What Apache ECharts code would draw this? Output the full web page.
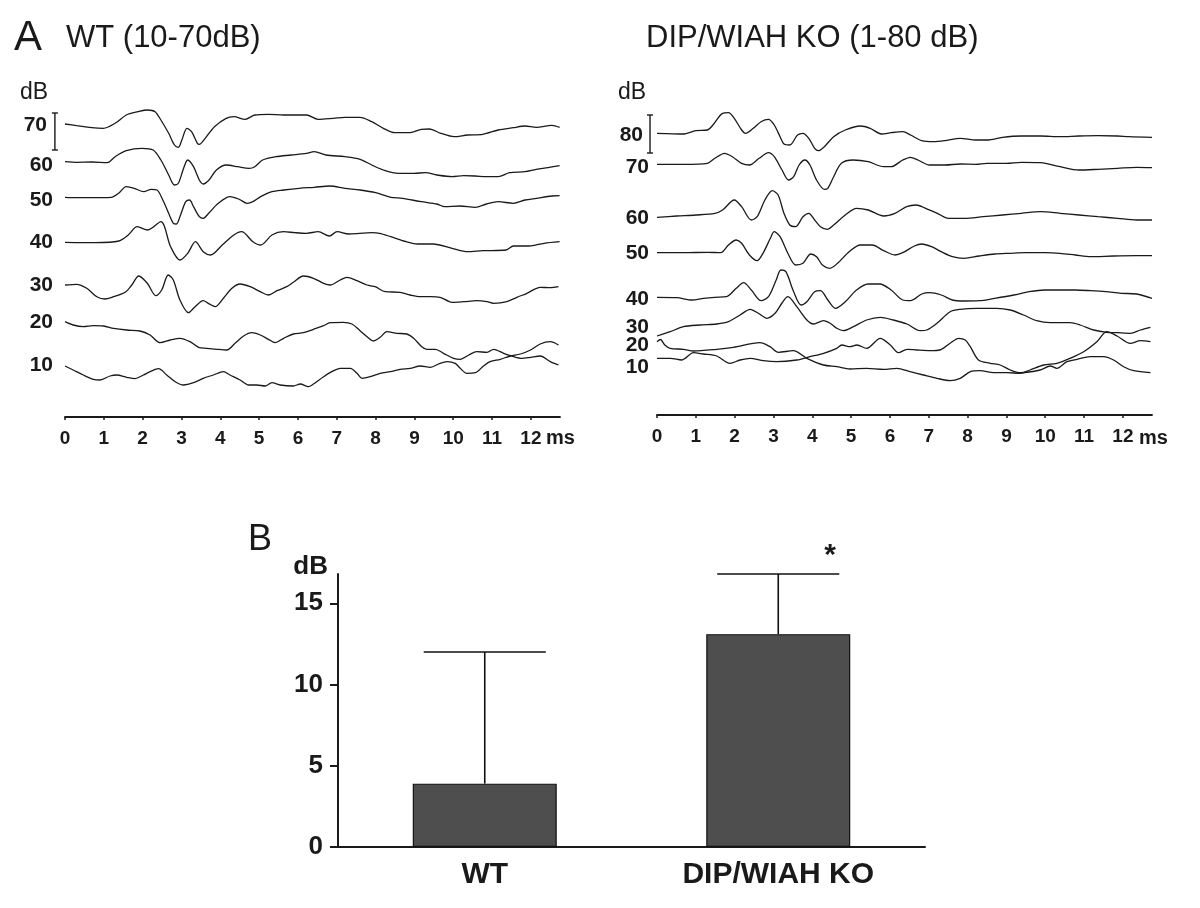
<!DOCTYPE html>
<html>
<head>
<meta charset="utf-8">
<script src="https://cdn.jsdelivr.net/npm/echarts@6/dist/echarts.min.js"></script>
<style>html,body{margin:0;padding:0;background:#fff}#c{width:1200px;height:908px}</style>
</head>
<body>
<div id="c"></div>
<script>
// ---------- DATA ----------
// Panel A: ABR waveforms, [time in ms, vertical position in display units]
const msTicks = [0,1,2,3,4,5,6,7,8,9,10,11,12];

const wtLevels = ['70','60','50','40','30','20','10'];
const wtLevelPos = [292,252,217,175,132,95,52];
const koLevels = ['80','70','60','50','40','30','20','10'];
const koLevelPos = [280,248,197,162,116,88,70,48];

const wt70 = [[0,293],[0.3,291.3],[0.69,289.3],[0.99,288.7],[1.29,293.7],[1.58,302],[1.88,305.3],[2.13,307],[2.32,305.3],[2.47,297],[2.67,283.7],[2.82,272],[2.92,269.7],[3.01,277],[3.14,288.7],[3.26,285.3],[3.41,273.7],[3.46,272.7],[3.61,278.7],[3.85,290.3],[4.15,298.7],[4.35,300.3],[4.64,297.7],[4.89,302],[5.24,302.7],[5.63,302],[5.98,302],[6.22,302],[6.52,297.7],[6.91,298.7],[7.21,299.7],[7.6,299.7],[7.9,295.3],[8.2,288.7],[8.49,284.3],[8.89,284.3],[9.18,287.7],[9.38,288],[9.68,283.7],[10.02,280.3],[10.37,282],[10.76,282.7],[11.16,287],[11.55,289.3],[11.85,291],[12.14,289.7],[12.54,291.7],[12.74,289.7]];
const wt60 = [[0,255.3],[0.3,254.7],[0.69,255],[1.09,254.3],[1.29,260.3],[1.58,266.3],[1.98,268.7],[2.27,267],[2.47,257],[2.67,242],[2.82,232],[2.92,233.7],[3.04,247],[3.16,257],[3.31,250.3],[3.46,237],[3.56,233],[3.71,237],[3.9,247],[4.15,252],[4.45,250.3],[4.74,248.7],[4.89,250.3],[5.09,257],[5.43,260.3],[5.83,262],[6.22,263.7],[6.42,265.3],[6.72,262],[7.21,260.3],[7.6,257.7],[7.9,252],[8.2,247],[8.59,243.7],[8.99,243.7],[9.28,244.3],[9.58,242],[9.97,240.3],[10.27,241.3],[10.56,241],[10.86,240.3],[11.16,240.3],[11.45,244.3],[11.85,245.3],[12.14,247.7],[12.44,249.3],[12.74,251.3]];
const wt50 = [[0,219.7],[0.3,219.3],[0.69,219.3],[1.19,219.7],[1.38,223.7],[1.58,230.3],[1.78,228.7],[2.03,225.3],[2.22,227.7],[2.37,227],[2.52,217],[2.67,203.7],[2.79,193.7],[2.87,193],[2.96,200.3],[3.11,215.3],[3.21,217],[3.31,210.3],[3.46,200.3],[3.56,198.7],[3.7,203.7],[3.95,213.7],[4.25,220.3],[4.49,217.7],[4.69,213.7],[4.84,215.3],[5.04,220.3],[5.33,225.3],[5.63,227],[6.03,228.7],[6.42,229.7],[6.82,231],[7.21,228.7],[7.6,227],[8.0,224.3],[8.39,219.7],[8.69,218.7],[9.18,215.3],[9.58,213],[9.78,210.3],[10.17,211],[10.57,209.7],[10.86,213],[11.16,215.3],[11.55,213.7],[11.85,217],[12.14,218.7],[12.54,221],[12.74,221.3]];
const wt40 = [[0,174.7],[0.79,174.3],[1.39,176],[1.63,182],[1.86,190.3],[2.13,187],[2.47,195.3],[2.72,170.3],[2.96,157],[3.16,163.7],[3.36,175.3],[3.56,165.3],[3.75,162],[4.05,172],[4.35,182],[4.55,185.3],[4.84,175.3],[5.04,172],[5.33,182],[5.63,185.3],[5.92,184.3],[6.22,183.7],[6.52,185.3],[6.81,181],[7.01,185.3],[7.31,183],[7.6,183.7],[7.9,184.3],[8.1,183.7],[8.39,180.3],[8.79,175.3],[9.08,173],[9.48,173],[9.97,168.7],[10.37,165.3],[10.76,166.3],[11.36,167],[11.55,171],[11.95,171],[12.34,173.7],[12.74,175.3]];
const wt30 = [[0,132],[0.3,132.7],[0.56,128.7],[0.82,120.3],[1.03,118],[1.25,120.3],[1.55,124.7],[1.72,132],[1.9,141],[2.12,133.7],[2.34,121.3],[2.49,127],[2.66,142],[2.79,137],[2.96,117],[3.18,104.3],[3.35,110.3],[3.56,116.3],[3.69,113.7],[3.87,110.3],[4.08,118.7],[4.3,128.7],[4.51,133],[4.77,130.3],[5.03,125.3],[5.24,122],[5.46,126.3],[5.71,130.3],[5.88,134.7],[6.14,141],[6.4,138.7],[6.66,133.7],[6.83,132],[7.09,137],[7.26,139.7],[7.52,136.3],[7.78,132],[7.99,130.3],[8.25,125.3],[8.63,124.7],[8.89,122],[9.15,120.3],[9.41,120.3],[9.66,119.7],[9.97,114.7],[10.27,115.3],[10.61,116.3],[10.87,115.3],[11.04,113.7],[11.38,115.3],[11.64,119.7],[11.9,123.7],[12.24,129.7],[12.5,129.3],[12.71,130.3]];
const wt20 = [[0,95.3],[0.21,92],[0.47,90.3],[0.73,91.3],[0.99,91],[1.25,88.7],[1.59,87],[1.93,86],[2.19,82],[2.45,74.3],[2.71,77],[2.96,78.7],[3.22,75.3],[3.44,69.7],[3.65,68.7],[3.91,67.7],[4.17,67],[4.38,73.7],[4.6,81],[4.81,84.3],[5.03,82],[5.24,77.7],[5.41,74.3],[5.63,78.7],[5.88,83],[6.14,84.3],[6.4,87.7],[6.66,91.3],[6.83,94.3],[7.17,94.7],[7.39,93],[7.6,86.3],[7.78,80.3],[7.95,76],[8.12,79.7],[8.29,85.3],[8.55,83.7],[8.8,83],[8.98,78.7],[9.19,70.3],[9.32,67.7],[9.54,67.7],[9.75,63.7],[10.01,58.7],[10.18,57.7],[10.4,62],[10.61,65.3],[10.87,64.7],[11.04,67.7],[11.3,63.7],[11.56,60.3],[11.77,58.7],[11.99,59.7],[12.24,61],[12.5,55.3],[12.71,52]];
const wt10 = [[0,51],[0.21,47],[0.47,42],[0.73,37.7],[0.9,37],[1.16,41],[1.33,42],[1.59,39.7],[1.8,38.3],[2.02,42],[2.19,45.3],[2.41,48.3],[2.62,42],[2.84,35.3],[3.05,32],[3.31,34.3],[3.56,38.7],[3.82,42],[4.08,45.3],[4.25,42],[4.51,37],[4.73,32],[4.94,32],[5.16,31],[5.33,34.3],[5.54,32],[5.88,31],[6.06,33],[6.27,30.3],[6.4,33],[6.66,40.3],[6.87,45.3],[7.09,48.7],[7.35,48.7],[7.52,43.7],[7.65,38.7],[7.86,40.3],[8.12,43.7],[8.38,45.3],[8.63,47.7],[8.89,48.7],[9.15,51],[9.41,49.7],[9.66,53.7],[9.84,55.3],[10.05,53.7],[10.18,48.7],[10.35,43.7],[10.57,44.3],[10.78,51],[10.95,55.3],[11.21,57.7],[11.47,61],[11.73,63],[11.99,67],[12.24,73],[12.5,75.3],[12.71,72]];

const ko80 = [[0,281.7],[0.7,281],[1.0,284.3],[1.3,285],[1.44,290],[1.69,301.7],[1.84,302.3],[1.99,296.7],[2.18,285],[2.28,281.7],[2.48,286.7],[2.68,293.3],[2.87,295.7],[3.02,290],[3.17,278.3],[3.27,271],[3.42,270],[3.62,280],[3.76,281.7],[3.91,276.7],[4.06,266.7],[4.16,264.3],[4.31,268.3],[4.55,278.3],[4.85,285],[5.24,289],[5.49,286.7],[5.79,281],[6.03,282.3],[6.33,283.3],[6.53,280],[6.82,274.3],[7.12,273.3],[7.41,274.3],[7.81,276.7],[8.21,275],[8.5,275],[8.9,277.7],[9.39,279],[9.88,279],[10.38,278.3],[10.87,279],[11.36,279.3],[11.86,279],[12.15,278.3],[12.75,277.7]];
const ko70 = [[0,250.7],[0.7,250.7],[1.3,251.7],[1.49,256.7],[1.74,261.7],[1.94,258.3],[2.18,251.7],[2.38,250],[2.63,256.7],[2.87,262.3],[3.02,258.3],[3.22,245],[3.39,235],[3.52,238.3],[3.66,250],[3.81,255],[3.94,250],[4.11,235],[4.31,225.7],[4.4,226.7],[4.55,238.3],[4.75,251.7],[5.05,255],[5.44,253.3],[5.84,248.3],[6.03,248.3],[6.33,255],[6.53,257.7],[6.72,255],[7.02,250],[7.42,250],[7.81,251],[8.21,250.7],[8.5,251.7],[9.0,251.7],[9.39,252.7],[9.88,252.3],[10.38,248.3],[10.87,245],[11.36,245.7],[11.86,246.7],[12.35,247.7],[12.75,247.3]];
const ko60 = [[0,197.7],[0.51,199],[1.0,200],[1.49,201.7],[1.69,205],[1.99,215],[2.18,208.3],[2.43,195],[2.58,198.3],[2.78,215],[2.97,224.3],[3.12,220],[3.27,201.7],[3.42,190],[3.57,188.3],[3.76,198.3],[3.91,201.7],[4.06,195],[4.21,188.3],[4.38,185.7],[4.55,190],[4.85,200],[5.14,206.7],[5.44,205],[5.84,199],[6.13,201.7],[6.43,208.3],[6.67,210],[6.92,206.7],[7.22,201.7],[7.51,196.7],[7.91,196.7],[8.4,198.3],[8.9,200],[9.39,201.7],[9.88,203.3],[10.38,201.7],[10.87,200],[11.36,198.3],[11.86,196.7],[12.35,195],[12.75,195]];
const ko50 = [[0,162.3],[0.7,162.3],[1.3,162.7],[1.64,162.3],[1.84,170],[2.04,175],[2.18,171.7],[2.38,160],[2.58,154.3],[2.73,161.7],[2.92,176.7],[3.02,183.3],[3.17,178.3],[3.37,161.7],[3.57,150],[3.76,151.7],[3.96,161],[4.11,158.3],[4.26,150],[4.45,146.7],[4.65,151.7],[4.95,163.3],[5.24,170],[5.54,170],[5.84,164.3],[6.13,160],[6.33,162.3],[6.63,169],[6.82,171],[7.07,168.3],[7.32,163.3],[7.61,158.3],[7.91,156.7],[8.3,159],[8.7,161],[9.09,161.7],[9.49,162.3],[9.98,162.3],[10.38,161.7],[10.77,160],[11.17,158.3],[11.76,159],[12.35,159.3],[12.75,159.3]];
const ko40 = [[0,117.7],[0.51,117.3],[0.9,115],[1.2,116.7],[1.49,117.7],[1.79,118.3],[2.04,126.7],[2.23,132.3],[2.43,125],[2.68,114.3],[2.87,118.3],[3.07,135],[3.19,145],[3.32,143.3],[3.52,123.3],[3.71,110],[3.86,113.3],[4.06,123.3],[4.21,124.3],[4.4,115],[4.6,106.7],[4.85,113.3],[5.14,125],[5.44,131],[5.74,131],[6.03,125],[6.33,115],[6.53,114.3],[6.82,121],[7.02,122.3],[7.32,120],[7.61,115],[7.91,114],[8.3,114.3],[8.7,116.7],[9.19,120],[9.59,123.3],[9.98,125],[10.38,125],[10.77,125],[11.17,124.3],[11.56,123.3],[11.96,121.7],[12.35,121],[12.75,116.7]];
const ko30 = [[0,79],[0.34,83.3],[0.68,88.3],[1.11,90],[1.54,91],[1.84,93.3],[2.14,100],[2.4,105.7],[2.61,101.7],[2.83,96.7],[3.04,101.7],[3.22,112],[3.37,118.3],[3.6,108.3],[3.86,95],[4.03,91],[4.29,94.3],[4.46,91.7],[4.63,86.7],[4.8,84.3],[5.06,88.3],[5.4,95],[5.75,97.7],[6.09,95],[6.44,91],[6.78,84.3],[6.95,85],[7.21,91.7],[7.55,103.3],[7.81,105.7],[8.24,106.7],[8.75,106.7],[9.1,105],[9.44,100],[9.78,94.3],[10.13,92.3],[10.64,92.3],[10.9,90],[11.25,85],[11.59,82.7],[11.85,82.3],[12.19,81.7],[12.45,85],[12.71,87.7]];
const ko20 = [[0,73.3],[0.09,75.5],[0.2,70],[0.34,66.7],[0.68,65.7],[0.94,64],[1.54,65.7],[1.97,67.7],[2.65,72.3],[2.91,68.3],[3.13,62.7],[3.51,64.3],[3.86,56.7],[4.29,50],[4.63,48.3],[4.97,46],[5.4,46.7],[5.83,45.7],[6.18,46.7],[6.52,43.3],[6.86,40],[7.21,36.7],[7.55,34.3],[7.81,36.7],[8.07,43.3],[8.32,44.3],[8.67,42.3],[9.01,42.3],[9.36,41.7],[9.61,45],[9.96,50],[10.3,51.7],[10.64,56.7],[10.99,63.3],[11.33,73.3],[11.59,83.3],[11.85,79],[12.19,71.7],[12.45,74.3],[12.71,73.3]];
const ko10 = [[0,56.7],[0.34,56.7],[0.64,55],[0.94,62.3],[1.19,61],[1.54,59],[1.88,51.7],[2.14,55],[2.4,56.7],[2.74,54.3],[3.08,53.3],[3.6,55],[3.94,58.3],[4.29,61.7],[4.63,66.7],[4.76,70],[4.97,68.3],[5.15,70],[5.4,66.7],[5.75,76.7],[6.01,70],[6.22,62.3],[6.44,65.7],[6.69,65],[7.04,64.3],[7.29,65],[7.55,71.7],[7.77,76.7],[7.94,75],[8.07,68.3],[8.28,55],[8.58,51.7],[8.84,50],[9.1,45],[9.36,42.3],[9.87,45],[10.13,49],[10.3,46.7],[10.56,53.3],[10.82,55.7],[11.16,58.3],[11.5,58.3],[11.76,55],[12.02,48.3],[12.28,44.3],[12.71,42.3]];

// amplitude scale bars: [time, low, high] in display units
const wtScaleBar = [[-0.26,267,304]];
const koScaleBar = [[-0.18,262,300]];

// Panel B: threshold shift (dB), mean and upper error
const groups = ['WT','DIP/WIAH KO'];
const meanDb = [3.9, 13.1];
const upperDb = [12.0, 16.8];
const bTicks = [0,5,10,15];

// ---------- CHART ----------
const FONT = '"Liberation Sans", Arial, Helvetica, sans-serif';
const INK = '#1a1a1a';
const chart = echarts.init(document.getElementById('c'), null, {renderer:'canvas'});

function traceSeries(name, data, idx){
  return {name, type:'line', xAxisIndex:idx, yAxisIndex:idx, data, smooth:0.3,
    showSymbol:false, symbol:'none', lineStyle:{color:INK, width:1.3}, silent:true, z:3};
}
function levelAxis(idx, levels, pos, max, margin, firstPad){
  return {type:'value', gridIndex:idx, min:0, max:max, axisLine:{show:false}, axisTick:{show:false},
    splitLine:{show:false},
    axisLabel:{customValues:pos, margin:margin, color:INK, fontFamily:FONT, fontWeight:'bold', fontSize:21,
      formatter:(v)=>{const i=pos.indexOf(v); if(i<0) return ''; return i===0?'{p|'+levels[i]+'}':levels[i];},
      rich:{p:{padding:[0,firstPad,0,0], fontFamily:FONT, fontWeight:'bold', fontSize:21, color:INK}}}};
}
function msAxis(idx){
  return {type:'value', gridIndex:idx, min:0, max:12.75, interval:1,
    axisLine:{lineStyle:{color:INK, width:1.8}},
    axisTick:{customValues:msTicks, length:3, lineStyle:{color:INK, width:1.5}},
    axisLabel:{customValues:msTicks, margin:12, color:INK, fontFamily:FONT, fontWeight:'bold', fontSize:19,
      formatter:(v)=>Number.isInteger(v)?String(v):''},
    splitLine:{show:false}};
}
function scaleBar(data, idx){
  return {type:'custom', xAxisIndex:idx, yAxisIndex:idx, data, clip:false, silent:true,
    renderItem:(params, api)=>{
      const a = api.coord([api.value(0), api.value(1)]);
      const b = api.coord([api.value(0), api.value(2)]);
      const st = {stroke:INK, lineWidth:1.4};
      return {type:'group', children:[
        {type:'line', shape:{x1:a[0], y1:a[1], x2:b[0], y2:b[1]}, style:st},
        {type:'line', shape:{x1:a[0]-3, y1:a[1], x2:a[0]+3, y2:a[1]}, style:st},
        {type:'line', shape:{x1:b[0]-3, y1:b[1], x2:b[0]+3, y2:b[1]}, style:st}
      ]};
    }};
}

const wtSeries = [wt70,wt60,wt50,wt40,wt30,wt20,wt10].map((d,i)=>traceSeries('WT '+wtLevels[i]+' dB', d, 0));
const koSeries = [ko80,ko70,ko60,ko50,ko40,ko30,ko20,ko10].map((d,i)=>traceSeries('KO '+koLevels[i]+' dB', d, 1));

const option = {
  animation:false,
  backgroundColor:'#fff',
  grid:[
    {left:65, top:80, width:495, height:337},
    {left:657, top:80, width:495, height:335},
    {left:338, top:574, width:587, height:273}
  ],
  xAxis:[
    msAxis(0), msAxis(1),
    {type:'category', gridIndex:2, data:groups, axisLine:{lineStyle:{color:INK, width:2}}, axisTick:{show:false},
     axisLabel:{margin:13, color:INK, fontFamily:FONT, fontWeight:'bold', fontSize:30}}
  ],
  yAxis:[
    levelAxis(0, wtLevels, wtLevelPos, 337, 12, 6),
    levelAxis(1, koLevels, koLevelPos, 335, 8, 6),
    {type:'value', gridIndex:2, min:0, max:16.8, interval:5,
     axisLine:{show:true, lineStyle:{color:INK, width:2}},
     axisTick:{show:true, customValues:bTicks, length:8, lineStyle:{color:INK, width:2}},
     axisLabel:{customValues:bTicks, margin:15, color:INK, fontFamily:FONT, fontWeight:'bold', fontSize:26},
     splitLine:{show:false}}
  ],
  series:[
    ...wtSeries, scaleBar(wtScaleBar,0),
    ...koSeries, scaleBar(koScaleBar,1),
    {type:'bar', xAxisIndex:2, yAxisIndex:2, data:meanDb, barWidth:144,
     itemStyle:{color:'#4e4e4e', borderColor:'#111', borderWidth:1.2}, silent:true, z:2},
    {type:'custom', xAxisIndex:2, yAxisIndex:2, z:3, silent:true,
     data: groups.map((g,i)=>[i, meanDb[i], upperDb[i]]),
     renderItem:(params, api)=>{
       const p0 = api.coord([api.value(0), api.value(1)]);
       const p1 = api.coord([api.value(0), api.value(2)]);
       const half = api.size([1,0])[0]*0.208;
       const st = {stroke:'#111', lineWidth:1.6};
       return {type:'group', children:[
         {type:'line', shape:{x1:p0[0], y1:p0[1], x2:p1[0], y2:p1[1]}, style:st},
         {type:'line', shape:{x1:p1[0]-half, y1:p1[1], x2:p1[0]+half, y2:p1[1]}, style:st}
       ]};
     }}
  ],
  graphic:[
    {type:'text', x:14, y:38, style:{text:'A', font:'normal 42px '+FONT, fill:INK, verticalAlign:'middle'}},
    {type:'text', x:66, y:38, style:{text:'WT (10-70dB)', font:'normal 31px '+FONT, fill:INK, verticalAlign:'middle'}},
    {type:'text', x:646, y:38, style:{text:'DIP/WIAH KO (1-80 dB)', font:'normal 31px '+FONT, fill:INK, verticalAlign:'middle'}},
    {type:'text', x:20, y:93, style:{text:'dB', font:'normal 23px '+FONT, fill:INK, verticalAlign:'middle'}},
    {type:'text', x:618, y:93, style:{text:'dB', font:'normal 23px '+FONT, fill:INK, verticalAlign:'middle'}},
    {type:'text', x:546, y:438, style:{text:'ms', font:'bold 20px '+FONT, fill:INK, verticalAlign:'middle'}},
    {type:'text', x:1139, y:438, style:{text:'ms', font:'bold 20px '+FONT, fill:INK, verticalAlign:'middle'}},
    {type:'text', x:248, y:540, style:{text:'B', font:'normal 36px '+FONT, fill:INK, verticalAlign:'middle'}},
    {type:'text', x:328, y:567, style:{text:'dB', font:'bold 26px '+FONT, fill:INK, align:'right', verticalAlign:'middle'}},
    {type:'text', x:830, y:556, style:{text:'*', font:'bold 30px '+FONT, fill:INK, align:'center', verticalAlign:'middle'}}
  ]
};
chart.setOption(option);
</script>
</body>
</html>
